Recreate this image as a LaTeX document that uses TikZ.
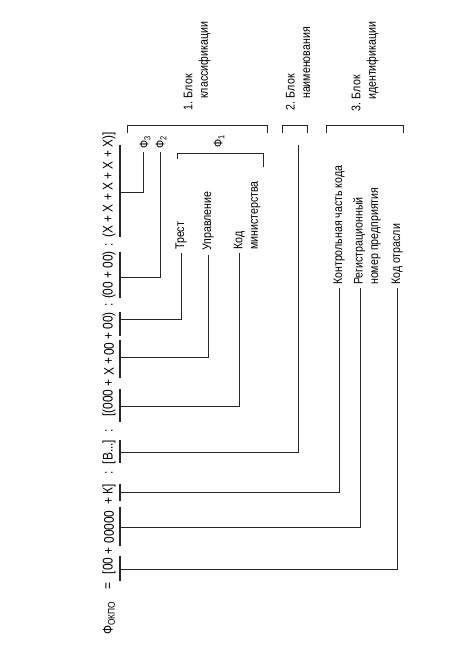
\documentclass[tikz,border=0pt]{standalone}
\usepackage{fontspec}
\setmainfont{Liberation Sans}[FakeStretch=0.85]
\begin{document}
\begin{tikzpicture}[x=1pt,y=-1pt,
  ln/.style={line width=0.85pt, draw=black!85},
  barln/.style={line width=1.4pt, draw=black!85},
  fml/.style={rotate=90, inner sep=0pt, text=black, font=\fontsize{14}{16}\selectfont},
  lbl/.style={rotate=90, anchor=west, inner sep=0pt, align=left, text=black,
    font=\fontsize{12.5}{15.5}\selectfont},
  brk/.style={line width=0.85pt, draw=black!85},
]
\useasboundingbox[fill=white] (0,0) rectangle (468,672);

% ---- formula pieces
\node[fml] (p1) at (109,618) {Ф\textsubscript{ОКПО}};
\node[fml] (p2) at (109,586) {=};
\node[fml] (p3) at (109,566) {[00};
\node[fml] (p4) at (109,551) {+};
\node[fml] (p5) at (109,527) {00000};
\node[fml] (p6) at (109,501) {+};
\node[fml] (p7) at (109,489) {К]};
\node[fml] (p8) at (109,473) {:};
\node[fml] (p9) at (109,452) {[В...]};
\node[fml] (p10) at (109,431) {:};
\node[fml] (p11) at (109,403) {[(000};
\node[fml] (p12) at (109,383) {+};
\node[fml] (p13) at (109,372) {Х};
\node[fml] (p14) at (109,361) {+};
\node[fml] (p15) at (109,349) {00};
\node[fml] (p16) at (109,336) {+};
\node[fml] (p17) at (109,321) {00)};
\node[fml] (p18) at (109,305) {:};
\node[fml] (p19) at (109,275) {(00 + 00)};
\node[fml] (p20) at (109,245) {:};
\node[fml] (p21) at (109,185) {(Х + Х + Х + Х + Х)]};

% ---- bars under the code parts
\coordinate (b1t) at (120,145); \coordinate (b1b) at (120,237); \coordinate (b1m) at (120,192);
\coordinate (b2t) at (120,252); \coordinate (b2b) at (120,298); \coordinate (b2m) at (120,277);
\coordinate (b3t) at (120,312); \coordinate (b3b) at (120,336); \coordinate (b3m) at (120,319);
\coordinate (b4t) at (120,340); \coordinate (b4b) at (120,378); \coordinate (b4m) at (120,357);
\coordinate (b5t) at (120,389); \coordinate (b5b) at (120,422); \coordinate (b5m) at (120,406);
\coordinate (b6t) at (120,440); \coordinate (b6b) at (120,463); \coordinate (b6m) at (120,452);
\coordinate (b7t) at (120,484); \coordinate (b7b) at (120,501); \coordinate (b7m) at (120,492);
\coordinate (b8t) at (120,507); \coordinate (b8b) at (120,546); \coordinate (b8m) at (120,527);
\coordinate (b9t) at (120,556); \coordinate (b9b) at (120,581); \coordinate (b9m) at (120,569);
\foreach \i in {1,...,9} {\draw[barln] (b\i t) -- (b\i b);}

% ---- labels
\node[lbl] (phi3) at (145,149) {Ф\textsubscript{3}};
\node[lbl] (phi2) at (161,149) {Ф\textsubscript{2}};
\node[lbl] (phi1) at (219,148) {Ф\textsubscript{1}};
\node[lbl] (trest) at (181,250) {Трест};
\node[lbl] (upr) at (208,251) {Управление};
\node[lbl] (kodm) at (247,250) {Код\\министерства};
\node[lbl] (kontr) at (339,285) {Контрольная часть кода};
\node[lbl] (reg) at (367,285) {Регистрационный\\номер предприятия};
\node[lbl] (otr) at (397,285) {Код отрасли};

\node[lbl] (blk1) at (197,111) {1. Блок\\\hspace*{12pt}классификации};
\node[lbl] (blk2) at (298,111) {2. Блок\\\hspace*{12pt}наименования};
\node[lbl] (blk3) at (365,112) {3. Блок\\\hspace*{12pt}идентификации};

% ---- brackets
\draw[brk] (127,133) -- (127,125) -- (267,125) -- (267,133);
\draw[brk] (282,133) -- (282,125) -- (307,125) -- (307,133);
\draw[brk] (326,133) -- (326,125) -- (403,125) -- (403,133);
\draw[brk] (177,159) -- (177,153) -- (263,153) -- (263,167);

% ---- free ends of the connectors
\coordinate (e1) at (143,152);
\coordinate (e2) at (160,152);
\coordinate (e3) at (181,253);
\coordinate (e4) at (208,255);
\coordinate (e5) at (239,253);
\coordinate (e6) at (298,145);
\coordinate (e7) at (339,288);
\coordinate (e8) at (360,288);
\coordinate (e9) at (397,288);

\foreach \i in {1,...,9} {\draw[ln] (b\i m) -| (e\i);}
\end{tikzpicture}
\end{document}
